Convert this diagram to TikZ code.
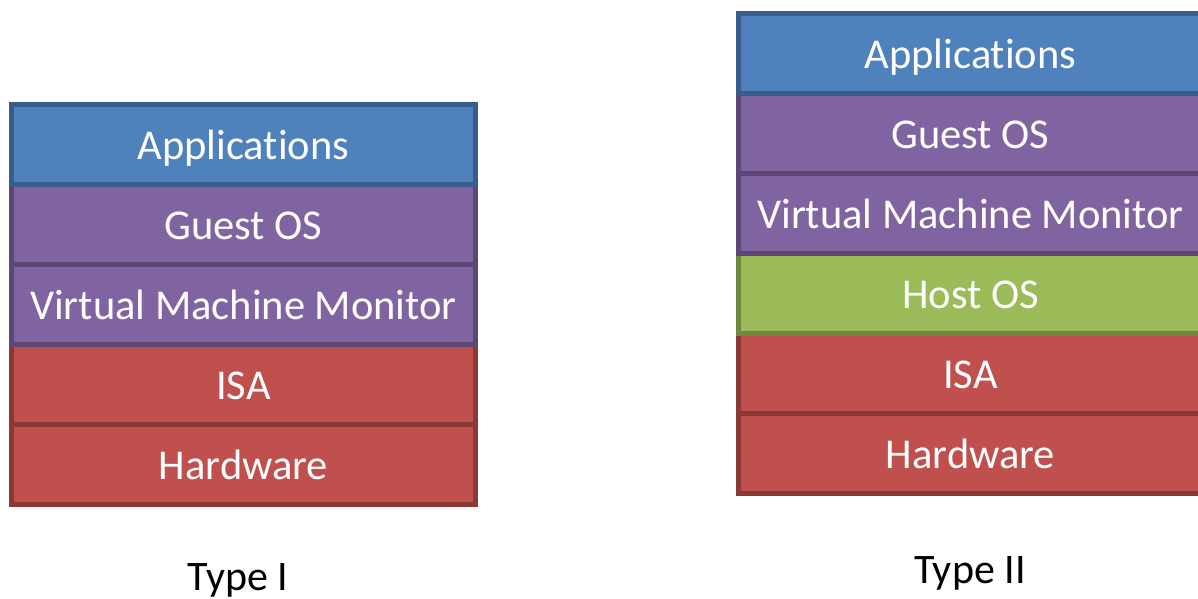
\documentclass[tikz,border=0pt]{standalone}
\usepackage{fontspec}
\setmainfont{Carlito}[Ligatures=NoCommon]
\definecolor{bluefill}{HTML}{4F81BD}
\definecolor{blueline}{HTML}{385D8A}
\definecolor{purplefill}{HTML}{8064A2}
\definecolor{purpleline}{HTML}{5C4776}
\definecolor{redfill}{HTML}{C0504D}
\definecolor{redline}{HTML}{8C3836}
\definecolor{greenfill}{HTML}{9BBB59}
\definecolor{greenline}{HTML}{71893F}
\tikzset{
  layer/.style={minimum width=464pt, minimum height=80pt, inner sep=0pt, outer sep=0pt,
    line width=5pt, text=white, font=\fontsize{42.5}{42.5}\selectfont,
    text height=30pt, text depth=0pt},
  bluelayer/.style={layer, fill=bluefill, draw=blueline},
  purplelayer/.style={layer, fill=purplefill, draw=purpleline},
  redlayer/.style={layer, fill=redfill, draw=redline},
  greenlayer/.style={layer, fill=greenfill, draw=greenline},
  caption/.style={text=black, font=\fontsize{42}{42}\selectfont, inner sep=0pt, anchor=base}
}
\begin{document}
\begin{tikzpicture}[x=1pt,y=-1pt]
\useasboundingbox (0,0) rectangle (1198,599);
% Type I
\node[redlayer] (l5) at (243.5,464.5) {Hardware};
\node[redlayer] (l4) at (243.5,384.5) {ISA};
\node[purplelayer] (l3) at (243.5,304.5) {Virtual Machine Monitor};
\node[purplelayer] (l2) at (243.5,224.5) {Guest OS};
\node[bluelayer] (l1) at (243.5,144.5) {Applications};
\node[caption] (t1) at (238,590) {Type I};
% Type II
\node[redlayer] (r6) at (970.5,453.5) {Hardware};
\node[redlayer] (r5) at (970.5,373.5) {ISA};
\node[greenlayer] (r4) at (970.5,293.5) {Host OS};
\node[purplelayer] (r3) at (970.5,213.5) {Virtual Machine Monitor};
\node[purplelayer] (r2) at (970.5,133.5) {Guest OS};
\node[bluelayer] (r1) at (970.5,53.5) {Applications};
\node[caption] (t2) at (970,583) {Type II};
\end{tikzpicture}
\end{document}
